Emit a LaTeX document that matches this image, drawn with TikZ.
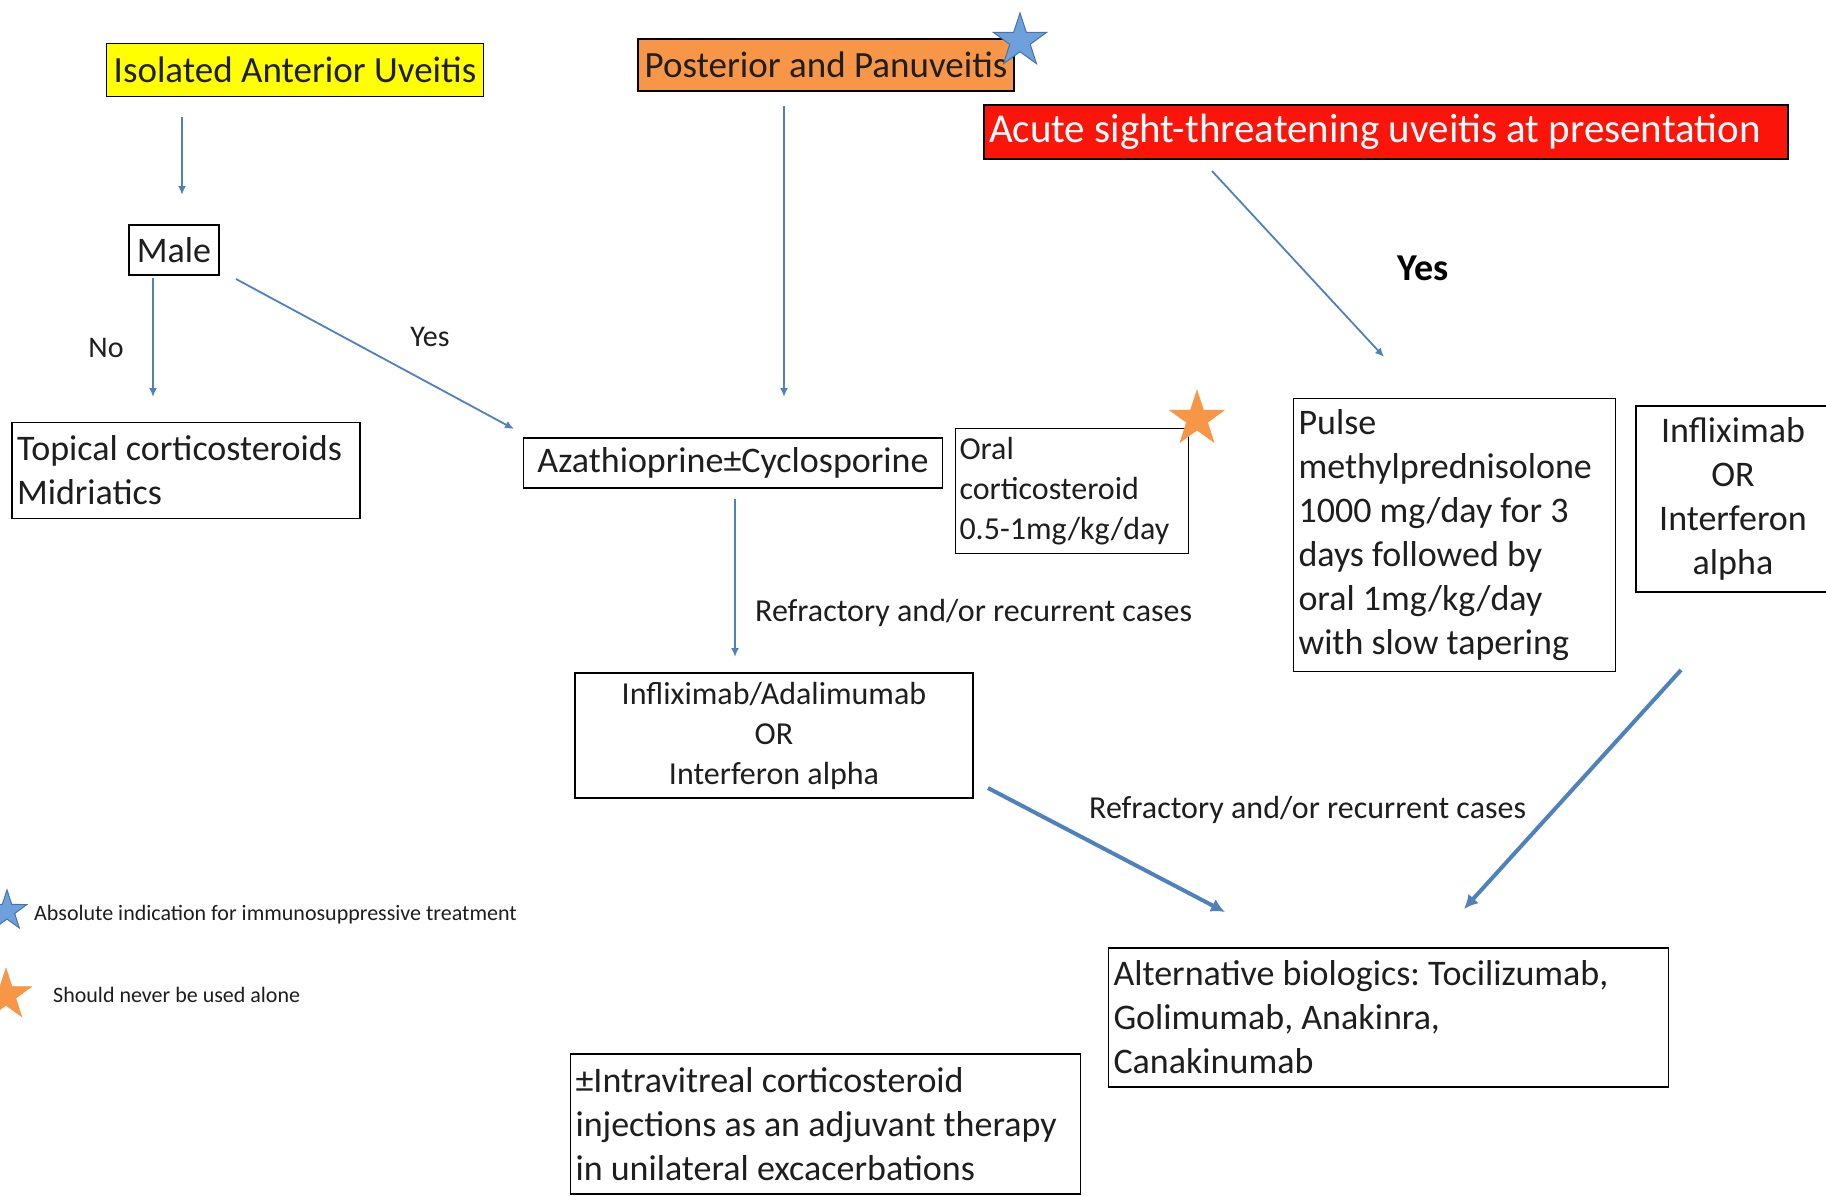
\documentclass[tikz,border=0pt]{standalone}
\usepackage{fontspec}
\setmainfont{Carlito}
\frenchspacing
\usetikzlibrary{shapes.geometric,arrows.meta}
\definecolor{arrblue}{RGB}{79,129,189}
\definecolor{starblue}{RGB}{110,160,220}
\definecolor{starblueedge}{RGB}{70,115,170}
\definecolor{staror}{RGB}{247,150,70}
\definecolor{boxyellow}{RGB}{255,255,0}
\definecolor{boxorange}{RGB}{247,150,70}
\definecolor{boxred}{RGB}{250,20,10}
\definecolor{txt}{RGB}{30,30,30}
\begin{document}
\begin{tikzpicture}[x=1pt,y=-1pt,
  every node/.style={text=txt},
  box/.style={draw=black, line width=1.8pt, inner xsep=5pt, inner ysep=0pt,
    font=\fontsize{36}{44}\selectfont},
  smallbox/.style={box, font=\fontsize{32}{40}\selectfont},
  lbl/.style={inner sep=0pt, font=\fontsize{30}{36}\selectfont},
  midlbl/.style={inner sep=0pt, font=\fontsize{32}{40}\selectfont, anchor=west},
  leg/.style={inner sep=0pt, font=\fontsize{22}{26}\selectfont, anchor=west},
  arr/.style={draw=arrblue, line width=1.8pt, -{Latex[length=9pt,width=8pt]}},
  thickarr/.style={draw=arrblue, line width=4pt, -{Latex[length=14pt,width=14pt]}},
  bluestar/.style={star, star points=5, star point ratio=2.6, fill=starblue, draw=starblueedge, line width=1pt, inner sep=0pt},
  orstar/.style={star, star points=5, star point ratio=2.6, fill=staror, draw=staror, inner sep=0pt}
]
\useasboundingbox (0,0) rectangle (1826,1196);
\fill[white] (0,0) rectangle (1826,1196);

% header boxes
\node[box, fill=boxyellow, minimum width=377pt, minimum height=53pt, font=\fontsize{37}{44}\selectfont] (iau) at (295,70) {Isolated Anterior Uveitis};
\node[box, fill=boxorange, minimum width=376pt, minimum height=52pt, font=\fontsize{37}{44}\selectfont] (ppu) at (826,65) {Posterior and Panuveitis};
\node[bluestar, minimum size=56pt] (star1) at (1020,41) {};
\node[box, fill=boxred, text width=794pt, minimum height=54pt, align=flush left, text=white, font=\fontsize{41}{46}\selectfont] (acute) at (1386,132) {Acute sight-threatening uveitis at presentation};

% left branch
\node[box, minimum width=90pt, minimum height=50pt] (male) at (174,250) {Male};
\node[box, text width=338pt, minimum height=96pt, align=flush left] (topical) at (186,470.5) {Topical corticosteroids\\Midriatics};
\node[box, minimum width=419pt, minimum height=50pt] (aza) at (733,463) {Azathioprine±Cyclosporine};
\node[smallbox, inner xsep=4pt, text width=225pt, minimum height=125pt, align=flush left] (oral) at (1072,491) {Oral\\corticosteroid\\0.5-1mg/kg/day};
\node[orstar, minimum size=58pt] (star2) at (1197,419) {};

\node[smallbox, minimum width=398pt, minimum height=125pt, align=center] (inflix) at (774,735.5) {Infliximab/Adalimumab\\OR\\Interferon alpha};

% right branch
\node[box, text width=312pt, minimum height=273pt, align=flush left] (pulse) at (1454.5,535) {Pulse\\methylprednisolone\\1000 mg/day for 3\\days followed by\\oral 1mg/kg/day\\with slow tapering};
\node[box, minimum width=194pt, minimum height=186pt, align=center] (infr) at (1733,499) {Infliximab\\OR\\Interferon\\alpha};

\node[box, text width=550pt, minimum height=139pt, align=flush left] (alt) at (1388.5,1017.5) {Alternative biologics: Tocilizumab,\\Golimumab, Anakinra,\\Canakinumab};
\node[box, text width=500pt, minimum height=140pt, align=flush left] (intra) at (825.5,1124) {±Intravitreal corticosteroid\\injections as an adjuvant therapy\\in unilateral excacerbations};

% labels
\node[lbl] (no) at (106,348) {No};
\node[lbl] (yes1) at (430,337) {Yes};
\node[inner sep=0pt, font=\fontsize{38}{44}\selectfont\bfseries, text=black] (yes2) at (1423,268) {Yes};
\node[midlbl] (ref1) at (755,613) {Refractory and/or recurrent cases};
\node[midlbl] (ref2) at (1089,810) {Refractory and/or recurrent cases};

% legend
\node[bluestar, minimum size=42pt] (lstar1) at (7,911) {};
\node[leg] (leg1) at (34,915) {Absolute indication for immunosuppressive treatment};
\node[orstar, minimum size=54pt] (lstar2) at (6,995) {};
\node[leg] (leg2) at (53,995) {Should never be used alone};

% arrow end points
\coordinate (c1s) at (182,117); \coordinate (c1e) at (182,195);
\coordinate (c2s) at (153,278); \coordinate (c2e) at (153,397);
\coordinate (c3s) at (236,279); \coordinate (c3e) at (514,429);
\coordinate (c4s) at (784,106); \coordinate (c4e) at (784,397);
\coordinate (c5s) at (735,499); \coordinate (c5e) at (735,657);
\coordinate (c6s) at (1212,171); \coordinate (c6e) at (1384,357);
\coordinate (c7s) at (988,788); \coordinate (c7e) at (1225,912);
\coordinate (c8s) at (1681,670); \coordinate (c8e) at (1464,909);

\draw[arr] (c1s) -- (c1e);
\draw[arr] (c2s) -- (c2e);
\draw[arr] (c3s) -- (c3e);
\draw[arr] (c4s) -- (c4e);
\draw[arr] (c5s) -- (c5e);
\draw[arr] (c6s) -- (c6e);
\draw[thickarr] (c7s) -- (c7e);
\draw[thickarr] (c8s) -- (c8e);
\end{tikzpicture}
\end{document}
